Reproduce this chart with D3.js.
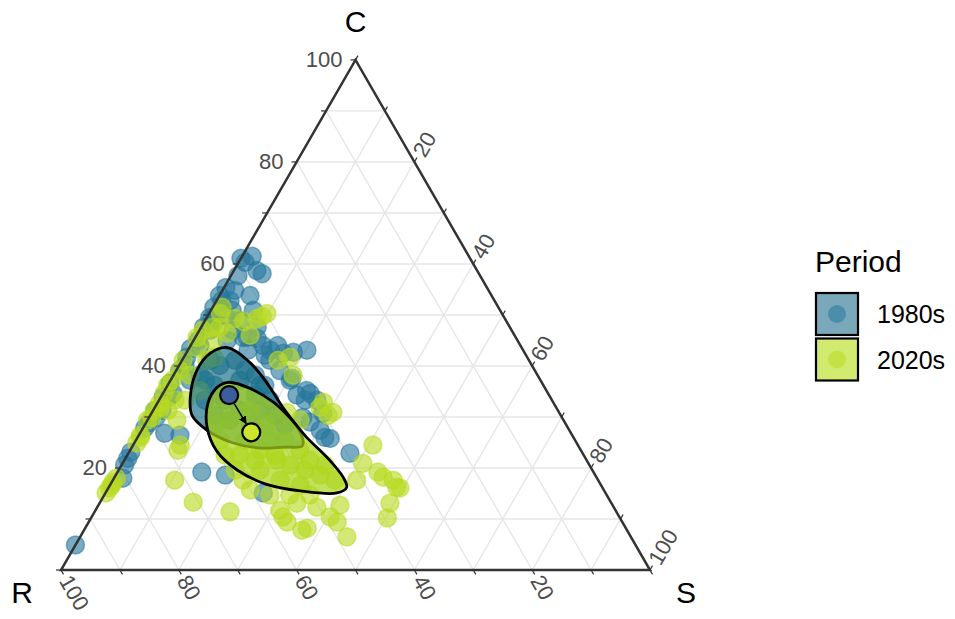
<!DOCTYPE html>
<html><head><meta charset="utf-8">
<script src="https://cdn.jsdelivr.net/npm/d3@7"></script>
<style>body{margin:0;background:#fff;}svg{display:block;font-family:"Liberation Sans",Arial,sans-serif;}</style>
</head><body><svg id="chart" width="955" height="619"></svg>
<script>
// ---- data: compositions as [R, C, S] percentages ----
const axisNames = ["R", "C", "S"];
const periods = ["1980s", "2020s"];
const tickLabels = [20, 40, 60, 80, 100];
const tickMinor = [0, 10, 20, 30, 40, 50, 60, 70, 80, 90, 100];

const pts1980s = [
[38.9,61.1,0],[36.8,61.5,1.7],[38.6,60.3,1.1],[37.4,58.7,3.9],[36.8,58.1,5.1],[44.3,55.4,0.3],[46.3,52.8,0.9],[48.3,51.5,0.2],[50.0,49.5,0.5],[52.0,47.6,0.4],[54.2,45.0,0.8],[56.3,43.4,0.3],[57.8,41.7,0.5],[60.3,39.1,0.6],[63.2,36.6,0.2],[65.7,33.9,0.4],[68.4,31.3,0.3],[70.7,28.8,0.5],[41.9,50.9,7.2],[42.9,47.6,9.5],[45.6,45.6,8.8],[47.3,47.0,5.7],[49.3,45.0,5.7],[45.2,48.9,5.9],[36.7,43.1,20.2],[39.2,42.7,18.1],[41.0,42.5,16.5],[44.0,45.4,10.6],[46.3,45.6,8.1],[40.7,35.2,24.1],[42.8,34.3,22.9],[39.9,33.3,26.8],[40.2,30.7,29.1],[42.2,26.0,31.8],[41.9,33.3,24.8],[69.0,26.8,4.2],[66.6,26.4,7.0],[66.5,19.2,14.3],[62.8,18.6,18.6],[58.1,15.1,26.8],[39.5,22.9,37.6],[95.1,4.9,0],[80.5,18.0,1.5],[76.6,23.1,0.3],[77.7,21.9,0.4],[78.9,20.6,0.5],[71.9,27.8,0.3],[68.9,29.9,1.2],[67.2,31.3,1.5],[64.7,33.9,1.4],[63.7,34.6,1.7],[40.4,34.6,25.0],[44.0,29.9,26.1],[43.2,29.0,27.8],[42.3,27.4,30.3],[41.4,25.8,32.8],
[54.1,41.1,4.8],[53.0,40.1,6.9],[49.9,41.1,9.0],[49.2,39.1,11.7],[47.9,38.2,13.9],[57.3,38.2,4.5],[55.8,36.2,8.0],[55.5,33.3,11.2],[54.0,31.3,14.7],[49.9,34.3,15.8],[47.3,36.2,16.5],[47.9,33.3,18.8],[58.9,33.3,7.8],[58.7,30.3,11.0],[56.6,29.4,14.0],[59.5,37.2,3.3],[50.6,31.3,18.1],[48.5,30.3,21.2],[47.8,28.4,23.8],[53.7,28.4,17.9],[49.7,49.3,1.0],[49.4,48.9,1.7],[44.9,52.8,2.3],[43.7,44.0,12.3],[44.0,41.1,14.9],[43.3,39.1,17.6],[42.5,37.2,20.3],[43.1,54.8,2.1],[47.2,49.9,2.9],[51.2,47.0,1.8],[54.4,44.0,1.6],[58.9,40.1,1.0],[42.9,43.1,14.0],[51.0,37.2,11.8],[48.1,36.2,15.7],[55.8,34.3,9.9],[46.7,43.1,10.2],[56.9,37.2,5.9],
[44.3,42.1,13.6],[41.2,44.0,14.8],[45.5,50.9,3.6],[46.2,53.8,0],[41.0,53.8,5.2],[41.1,57.7,1.2],[42.0,37.6,20.4]
];

const pts2020s = [
[46.9,51.5,1.6],[47.8,50.3,1.9],[50.4,47.6,2.0],[52.4,47.0,0.6],[54.1,45.6,0.3],[55.1,43.6,1.3],[58.7,41.1,0.2],[60.3,39.1,0.6],[62.5,37.2,0.3],[65.2,34.6,0.2],[67.2,31.9,0.9],[69.6,29.9,0.5],[42.1,49.3,8.6],[39.9,50.3,9.8],[49.2,47.6,3.2],[48.6,46.4,5.0],[51.7,45.0,3.3],[54.7,41.1,4.2],[83.7,16.1,0.2],[84.8,15.1,0.1],[82.6,17.2,0.2],[71.9,17.6,10.5],[68.4,23.5,8.1],[70.9,13.3,15.8],[65.6,11.4,23.0],[68.5,31.3,0.2],[66.9,32.7,0.4],[73.3,26.4,0.3],[73.5,26.0,0.5],[74.7,24.9,0.4],[66.2,31.3,2.5],[64.0,33.3,2.7],[62.3,33.3,4.4],[65.6,29.4,5.0],[67.5,24.5,8.0],[34.8,24.5,40.7],[38.3,20.9,40.8],[36.2,18.2,45.6],[34.9,16.2,48.9],[37.6,13.1,49.3],[39.5,10.2,50.3],[48.2,6.5,45.3],[54.1,8.2,37.7],[56.9,9.4,33.7],[57.0,11.7,31.3],[53.4,13.1,33.5],[50.4,12.3,37.3],[49.1,10.4,40.5],[52.6,21.5,25.9],[40.3,41.7,18.0],[42.6,41.1,16.3],[41.5,38.2,20.3],[39.0,32.9,28.1],[38.4,30.9,30.7],[46.2,30.9,22.9],[36.6,19.2,44.2],[34.8,17.6,47.6],[34.4,16.1,49.5],[41.0,17.6,41.4],[55.2,7.8,37.0],[57.1,10.4,32.5],[48.4,9.4,42.2],[60.3,17.6,22.1],[39.5,30.3,30.2],[40.1,31.9,28.0],[83.1,16.6,0.3],[81.6,18.0,0.4],
[56.6,29.4,14.0],[56.1,25.4,18.5],[54.5,23.5,22.0],[52.4,22.5,25.1],[50.8,20.6,28.6],[48.8,19.6,31.6],[46.7,18.6,34.7],[44.7,17.6,37.7],[56.4,19.6,24.0],[54.0,17.6,28.4],[51.1,16.6,32.3],[58.4,22.5,19.1],[60.3,25.4,14.3],[59.6,28.4,12.0],[52.3,31.3,16.4],[51.1,28.4,20.5],[49.3,25.4,25.3],[47.7,23.5,28.8],[47.0,21.5,31.5],[44.9,20.6,34.5],[51.8,25.4,22.8],[56.3,21.5,22.2],[60.6,19.6,19.8],[57.2,14.7,28.1],[53.8,14.7,31.5],[50.4,14.7,34.9],[60.0,15.7,24.3],[60.9,22.5,16.6],[41.0,49.7,9.3],[44.6,48.7,6.7],[59.0,38.2,2.8],[58.8,35.2,6.0],[53.2,41.7,5.1],
[45.8,49.3,4.9],[44.9,46.0,9.1],[63.8,36.2,0],[70.6,29.4,0],[44.7,29.4,25.9],[46.3,12.7,41.0]
];

const contour1980s = [[49.9,43.6,6.5],[47.6,40.7,11.7],[46.7,36.6,16.7],[46.4,31.9,21.7],[45.9,28.0,26.1],[46.2,25.4,28.4],[46.9,24.3,28.8],[50.2,24.1,25.7],[54.2,23.9,21.9],[58.3,24.9,16.8],[61.5,27.4,11.1],[62.6,30.3,7.1],[61.1,33.9,5.0],[57.4,39.1,3.5],[53.4,42.5,4.1]];
const contour2020s = [[53.2,36.8,10.0],[50.1,35.6,14.3],[47.5,32.9,19.6],[46.2,29.8,24.0],[45.3,26.0,28.7],[43.8,22.1,34.1],[43.0,18.2,38.8],[43.4,16.2,40.4],[45.6,15.1,39.3],[51.6,15.5,32.9],[56.7,16.8,26.5],[60.3,19.6,20.1],[61.9,23.3,14.8],[61.2,28.0,10.8],[58.7,32.7,8.6],[55.6,35.8,8.6]];

const mean1980s = [54.3, 34.3, 11.4];
const mean2020s = [54.2, 27.0, 18.8];

// ---- styles ----
const pointColor = {"1980s": "#26779c", "2020s": "#b8da20"};
const contourColor = {"1980s": "#1a7088", "2020s": "#aad41a"};
const legendFill = {"1980s": "#1f6e8c", "2020s": "#b5dc10"};
const meanColor = {"1980s": "#3a5f9c", "2020s": "#cde52c"};

// ---- geometry ----
const L = 589, X0 = 61, Y0 = 570, H = L * Math.sqrt(3) / 2;
const xScale = d3.scaleLinear().domain([0, 100]).range([X0, X0 + L]); // s + c/2
const yScale = d3.scaleLinear().domain([0, 100]).range([Y0, Y0 - H]);   // c
function proj(d) {
  const t = d[0] + d[1] + d[2];
  const c = d[1] / t * 100, s = d[2] / t * 100;
  return [xScale(s + c / 2), yScale(c)];
}

const svg = d3.select("#chart");

// grid
const grid = svg.append("g");
const gridLines = [];
for (let k = 10; k <= 90; k += 10) {
  gridLines.push([[100 - k, k, 0], [0, k, 100 - k]]); // const C
  gridLines.push([[100 - k, 0, k], [0, 100 - k, k]]); // const S
  gridLines.push([[k, 100 - k, 0], [k, 0, 100 - k]]); // const R
}
grid.selectAll("line").data(gridLines).join("line")
  .attr("x1", d => proj(d[0])[0]).attr("y1", d => proj(d[0])[1])
  .attr("x2", d => proj(d[1])[0]).attr("y2", d => proj(d[1])[1])
  .attr("stroke", "#e6e6e6").attr("stroke-width", 1.4);

// points
function drawPoints(data, key) {
  svg.append("g").selectAll("circle").data(data).join("circle")
    .attr("cx", d => proj(d)[0]).attr("cy", d => proj(d)[1]).attr("r", 9)
    .attr("fill", pointColor[key]).attr("fill-opacity", 0.62)
    .attr("stroke", pointColor[key]).attr("stroke-opacity", 0.55).attr("stroke-width", 1.5);
}
drawPoints(pts1980s, "1980s");
drawPoints(pts2020s, "2020s");

// contours
const lineGen = d3.line().x(d => proj(d)[0]).y(d => proj(d)[1]).curve(d3.curveCatmullRomClosed.alpha(0.5));
svg.append("path").attr("d", lineGen(contour1980s))
  .attr("fill", contourColor["1980s"]).attr("fill-opacity", 0.68)
  .attr("stroke", "#000").attr("stroke-width", 2.8);
svg.append("path").attr("d", lineGen(contour2020s))
  .attr("fill", contourColor["2020s"]).attr("fill-opacity", 0.7)
  .attr("stroke", "#000").attr("stroke-width", 2.8);

// triangle border
const verts = [[100, 0, 0], [0, 100, 0], [0, 0, 100]];
svg.append("path").attr("d", d3.line().x(d => proj(d)[0]).y(d => proj(d)[1])(verts) + "Z")
  .attr("fill", "none").attr("stroke", "#333").attr("stroke-width", 2.5).attr("stroke-linejoin", "miter");

// ticks
const tickLen = 5;
const axes = [
  {name: "C", pos: k => [100 - k, k, 0], dir: [-1, 0]},
  {name: "R", pos: k => [k, 0, 100 - k], dir: [0.5, Math.sqrt(3) / 2]},
  {name: "S", pos: k => [0, 100 - k, k], dir: [0.5, -Math.sqrt(3) / 2]}
];
const tickG = svg.append("g");
axes.forEach(a => {
  tickMinor.forEach(k => {
    const p = proj(a.pos(k));
    tickG.append("line").attr("x1", p[0]).attr("y1", p[1])
      .attr("x2", p[0] + a.dir[0] * tickLen).attr("y2", p[1] + a.dir[1] * tickLen)
      .attr("stroke", "#333").attr("stroke-width", 1.2);
  });
  tickLabels.forEach(k => {
    const p = proj(a.pos(k));
    const t = tickG.append("text").text(k).attr("fill", "#4d4d4d").attr("font-size", 22);
    if (a.name === "C") {
      t.attr("x", p[0] - 13).attr("y", p[1]).attr("text-anchor", "end").attr("dominant-baseline", "central");
    } else {
      const off = 8;
      const x = p[0] + a.dir[0] * off, y = p[1] + a.dir[1] * off;
      const ang = a.name === "R" ? 60 : -60;
      t.attr("transform", `translate(${x},${y}) rotate(${ang})`).attr("text-anchor", "start").attr("dominant-baseline", "central");
    }
  });
});

// vertex labels
const vLab = svg.append("g").attr("font-size", 30).attr("fill", "#000");
const cTop = proj([0, 100, 0]), rV = proj([100, 0, 0]), sV = proj([0, 0, 100]);
vLab.append("text").text(axisNames[1]).attr("x", cTop[0]).attr("y", cTop[1] - 38).attr("text-anchor", "middle").attr("dominant-baseline", "central");
vLab.append("text").text(axisNames[0]).attr("x", rV[0] - 39).attr("y", rV[1] + 22).attr("text-anchor", "middle").attr("dominant-baseline", "central");
vLab.append("text").text(axisNames[2]).attr("x", sV[0] + 36).attr("y", sV[1] + 22).attr("text-anchor", "middle").attr("dominant-baseline", "central");

// mean shift arrow
const m1 = proj(mean1980s), m2 = proj(mean2020s);
const dx = m2[0] - m1[0], dy = m2[1] - m1[1], len = Math.hypot(dx, dy);
const ux = dx / len, uy = dy / len;
svg.append("defs").append("marker").attr("id", "arr").attr("viewBox", "0 0 10 10")
  .attr("refX", 9).attr("refY", 5).attr("markerWidth", 5).attr("markerHeight", 5).attr("orient", "auto")
  .append("path").attr("d", "M0,0L10,5L0,10Z").attr("fill", "#000");
svg.append("line").attr("x1", m1[0] + ux * 10).attr("y1", m1[1] + uy * 10)
  .attr("x2", m2[0] - ux * 10).attr("y2", m2[1] - uy * 10)
  .attr("stroke", "#000").attr("stroke-width", 1.6).attr("marker-end", "url(#arr)");
[[mean1980s, "1980s"], [mean2020s, "2020s"]].forEach(([m, k]) => {
  const p = proj(m);
  svg.append("circle").attr("cx", p[0]).attr("cy", p[1]).attr("r", 9)
    .attr("fill", meanColor[k]).attr("stroke", "#000").attr("stroke-width", 2.2);
});

// legend
const lg = svg.append("g").attr("transform", "translate(815,0)");
lg.append("text").text("Period").attr("x", 0).attr("y", 272).attr("font-size", 30).attr("fill", "#000");
periods.forEach((p, i) => {
  const y = 293 + i * 45.5;
  lg.append("rect").attr("x", 1).attr("y", y).attr("width", 42).attr("height", 42)
    .attr("fill", legendFill[p]).attr("fill-opacity", 0.6).attr("stroke", "#000").attr("stroke-width", 2.2);
  lg.append("circle").attr("cx", 22).attr("cy", y + 21).attr("r", 9)
    .attr("fill", pointColor[p]).attr("fill-opacity", 0.55);
  lg.append("text").text(p).attr("x", 62).attr("y", y + 21).attr("dominant-baseline", "central")
    .attr("font-size", 25).attr("fill", "#000");
});
</script></body></html>
